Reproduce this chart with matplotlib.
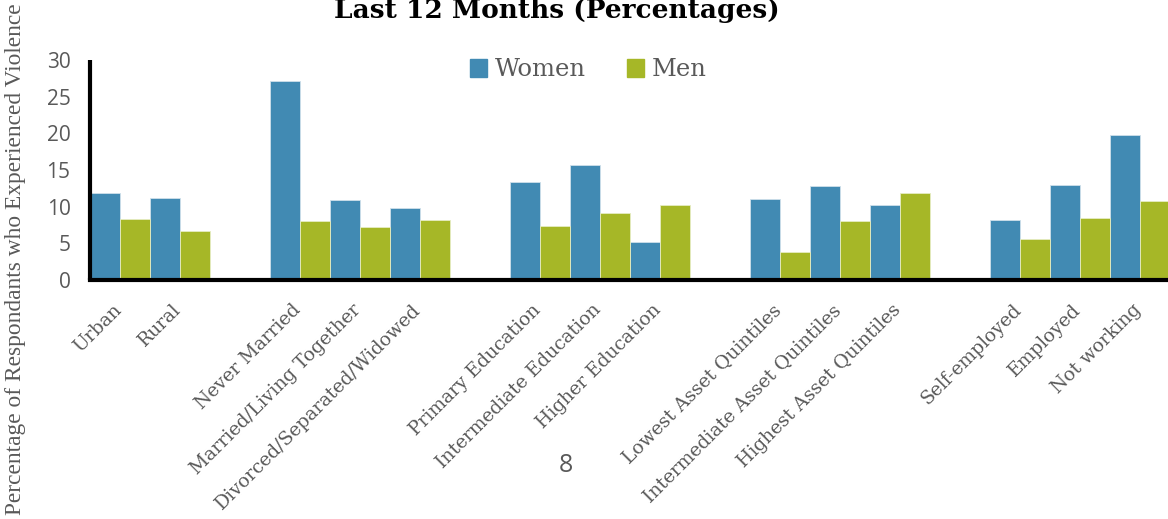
import matplotlib
matplotlib.use("Agg")
import matplotlib.pyplot as plt
from matplotlib.patches import Patch
import matplotlib.transforms as mtransforms
import numpy as np

groups = [
    ["Urban", "Rural"],
    ["Never Married", "Married/Living Together", "Divorced/Separated/Widowed"],
    ["Primary Education", "Intermediate Education", "Higher Education"],
    ["Lowest Asset Quintiles", "Intermediate Asset Quintiles", "Highest Asset Quintiles"],
    ["Self-employed", "Employed", "Not working"],
]
women = [11.8, 11.2, 27.1, 10.9, 9.8, 13.3, 15.7, 5.2, 11.1, 12.8, 10.2, 8.2, 12.9, 19.8]
men = [8.3, 6.7, 8.0, 7.2, 8.2, 7.4, 9.2, 10.2, 3.8, 8.0, 11.8, 5.6, 8.5, 10.8]
yticks = [0, 5, 10, 15, 20, 25, 30]

c_women = "#418AB3"
c_men = "#A6B727"
gray = "#595959"

# slot positions with one empty slot between groups
labels, pos = [], []
slot = 0
for g in groups:
    for lab in g:
        labels.append(lab)
        pos.append(slot)
        slot += 1
    slot += 1
pos = np.array(pos, dtype=float)
nslots = slot - 1

fig = plt.figure(figsize=(11.68, 5.19), dpi=100)
ax = fig.add_axes([90/1168, 1-280/519, 1080/1168, 220/519])

w = 0.5
ax.bar(pos - w/2, women, width=w, color=c_women, edgecolor="#cfe0ea", linewidth=0.6, label="Women")
ax.bar(pos + w/2, men, width=w, color=c_men, edgecolor="#e6ecc4", linewidth=0.6, label="Men")

ax.set_xlim(-0.5, nslots - 0.5)
ax.set_ylim(0, 30)
ax.set_yticks(yticks)
ax.set_yticklabels([str(t) for t in yticks], fontsize=15, color=gray, family="Open Sans")
ax.set_xticks(pos)
ax.set_xticklabels(labels, rotation=45, ha="right", rotation_mode="anchor",
                   fontsize=13.5, color=gray, family="DejaVu Serif")
ax.tick_params(axis="both", length=0)
ax.tick_params(axis="y", pad=14)
ax.tick_params(axis="x", pad=15)
offset = mtransforms.ScaledTranslation(-8/100, 0, fig.dpi_scale_trans)
for lab in ax.get_xticklabels():
    lab.set_transform(lab.get_transform() + offset)
for s in ["top", "right"]:
    ax.spines[s].set_visible(False)
for s in ["left", "bottom"]:
    ax.spines[s].set_linewidth(3)
    ax.spines[s].set_color("black")
ax.spines["left"].set_capstyle("butt")

handles = [Patch(color=c_women, label="Women"), Patch(color=c_men, label="Men")]
leg = ax.legend(handles=handles, ncol=2, loc="center", bbox_to_anchor=(588/1168, 1-70/519),
                bbox_transform=fig.transFigure, frameon=False,
                prop={"family": "DejaVu Serif", "size": 17.5},
                handlelength=0.72, handleheight=0.72, handletextpad=0.3, columnspacing=1.7)
for t in leg.get_texts():
    t.set_color(gray)

fig.text(557/1168, 1-18/519, "Last 12 Months (Percentages)", ha="center", va="baseline",
         fontsize=19, fontweight="bold", family="DejaVu Serif", color="black")
fig.text(16/1168, 0.5, "Percentage of Respondants who Experienced Violence", rotation=90,
         ha="center", va="center", fontsize=16.8, color=gray, family="Liberation Serif")
fig.text(566/1168, 1-466/519, "8", ha="center", va="center", fontsize=18, color=gray,
         family="Open Sans")

fig.savefig("out.png", dpi=100)
